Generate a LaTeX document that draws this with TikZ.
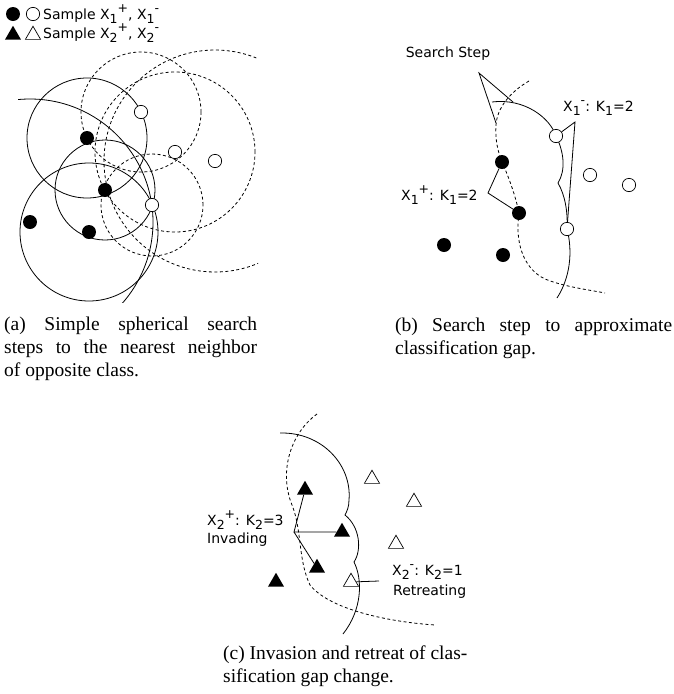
\documentclass[tikz,border=0pt]{standalone}
\usepackage{fontspec}
\setmainfont{Liberation Serif}
\newfontfamily\dv{DejaVu Sans}
\usetikzlibrary{shapes.geometric}
\newcommand\lo[1]{\raisebox{-0.28em}{\fontsize{12.5}{12.5}\selectfont #1}}
\newcommand\hi[1]{\raisebox{0.45em}{\fontsize{12.5}{12.5}\selectfont #1}}
\tikzset{
  dotf/.style={circle,fill=black,inner sep=0pt,minimum size=14pt},
  doto/.style={circle,draw=black,fill=white,inner sep=0pt,minimum size=13.3pt,line width=0.7pt},
  trif/.style={regular polygon,regular polygon sides=3,fill=black,inner sep=0pt,minimum size=18.5pt},
  trio/.style={regular polygon,regular polygon sides=3,draw=black,fill=white,inner sep=0pt,minimum size=17.5pt,line width=0.7pt},
  curve/.style={line width=0.8pt},
  dcurve/.style={line width=0.8pt,dash pattern=on 3pt off 2.5pt},
  lbl/.style={font=\dv\fontsize{14}{16}\selectfont,inner sep=0pt,anchor=west},
  captxt/.style={font=\fontsize{19.5}{23}\selectfont,inner sep=0pt,anchor=base west},
}
\begin{document}
\begin{tikzpicture}[x=1pt,y=-1pt]
\useasboundingbox (0,0) rectangle (673,694);

% ---------------- legend ----------------
\node[dotf] (lg1) at (13,14) {};
\node[doto] (lg2) at (33,14) {};
\node[lbl] (lgt1) at (43,14) {Sample X\lo1\hi{+}, X\lo1\hi{-}};
\node[trif] (lg3) at (13,35) {};
\node[trio] (lg4) at (33,35) {};
\node[lbl] (lgt2) at (43,33) {Sample X\lo2\hi{+}, X\lo2\hi{-}};

% ---------------- panel (a) ----------------
\begin{scope}
\clip (18,44) rectangle (258,302);
\draw[curve] (87,138) circle[radius=60pt];
\draw[curve] (105,190) circle[radius=50pt];
\draw[curve] (89,232) circle[radius=69pt];
\draw[curve] (30,222) circle[radius=123pt];
\draw[dcurve] (141,112) circle[radius=60pt];
\draw[dcurve] (175,152) circle[radius=80pt];
\draw[dcurve] (215,161) circle[radius=111pt];
\draw[dcurve] (152,205) circle[radius=51pt];
\end{scope}
\node[dotf] (a1) at (87,138) {};
\node[dotf] (a2) at (105,190) {};
\node[dotf] (a3) at (30,222) {};
\node[dotf] (a4) at (89,232) {};
\node[doto] (a5) at (141,112) {};
\node[doto] (a6) at (175,152) {};
\node[doto] (a7) at (215,161) {};
\node[doto] (a8) at (152,205) {};

% ---------------- panel (b) ----------------
\draw[curve] (492,102) .. controls (525,98) and (550,118) .. (556,136)
  .. controls (564,152) and (566,170) .. (558,183)
  .. controls (565,195) and (568,212) .. (567,229)
  .. controls (573,252) and (570,278) .. (557,298);
\draw[dcurve] (529,81) .. controls (510,92) and (497,108) .. (496,125)
  .. controls (495,140) and (498,152) .. (502,162)
  .. controls (510,180) and (516,198) .. (519,213)
  .. controls (515,240) and (522,268) .. (545,279)
  .. controls (565,287) and (590,290) .. (605,293);
\coordinate (ss) at (479,73);
\coordinate (ssa) at (513,102);
\coordinate (ssb) at (496,123);
\draw[curve] (ssa) -- (ss) -- (ssb);
\node[lbl,anchor=center] (sst) at (448,54) {Search Step};
\node[dotf] (b1) at (502,162) {};
\node[dotf] (b2) at (519,213) {};
\node[dotf] (b3) at (444,245) {};
\node[dotf] (b4) at (503,255) {};
\node[doto] (b5) at (556,136) {};
\node[doto] (b6) at (590,175) {};
\node[doto] (b7) at (629,185) {};
\node[doto] (b8) at (567,229) {};
\coordinate (bm) at (575,122);
\draw[curve] (b5) -- (bm) -- (b8);
\coordinate (bp) at (488,193);
\draw[curve] (b1) -- (bp) -- (b2);
\node[lbl] (lbm) at (563,108) {X\lo1\hi{-}: K\lo1=2};
\node[lbl] (lbp) at (401,195) {X\lo1\hi{+}: K\lo1=2};

% ---------------- panel (c) ----------------
\draw[curve] (280,433) .. controls (322,432) and (352,465) .. (349,500)
  .. controls (349,507) and (347,511) .. (345,515)
  .. controls (360,527) and (362,550) .. (354,562)
  .. controls (363,580) and (362,610) .. (343,634);
\draw[dcurve] (317,414) .. controls (292,432) and (278,470) .. (292,505)
  .. controls (302,530) and (298,560) .. (310,585)
  .. controls (330,610) and (390,622) .. (435,625);
\node[trif] (c1) at (305,490) {};
\node[trif] (c2) at (342,532) {};
\node[trif] (c3) at (317,568) {};
\node[trif] (c4) at (276,582) {};
\node[trio] (c5) at (372,479) {};
\node[trio] (c6) at (414,502) {};
\node[trio] (c7) at (396,544) {};
\node[trio] (c8) at (351,582) {};
\coordinate (cp) at (294,532);
\draw[curve] (c1) -- (cp) -- (c2);
\draw[curve] (cp) -- (c3);
\coordinate (cm) at (379,581);
\draw[curve] (cm) -- (c8);
\node[lbl] (lcp) at (207,520) {X\lo2\hi{+}: K\lo2=3};
\node[lbl] (lcp2) at (207,540) {Invading};
\node[lbl] (lcm) at (392,572) {X\lo2\hi{-}: K\lo2=1};
\node[lbl] (lcm2) at (393,592) {Retreating};

% ---------------- captions ----------------
\node[captxt] (ca1) at (4,330) {\makebox[253pt][s]{(a) Simple spherical search}};
\node[captxt] (ca2) at (4,353) {\makebox[253pt][s]{steps to the nearest neighbor}};
\node[captxt] (ca3) at (4,376) {of opposite class.};
\node[captxt] (cb1) at (395,331) {\makebox[277pt][s]{(b) Search step to approximate}};
\node[captxt] (cb2) at (395,354) {classification gap.};
\node[captxt] (cc1) at (223,659) {(c) Invasion and retreat of clas-};
\node[captxt] (cc2) at (223,682) {sification gap change.};
\end{tikzpicture}
\end{document}
